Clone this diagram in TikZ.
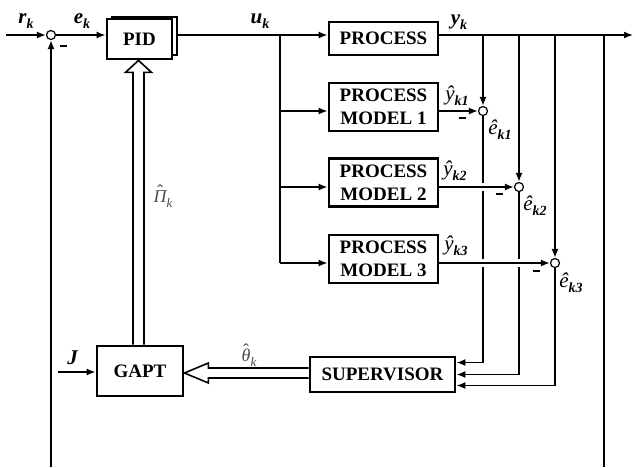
\documentclass[tikz,border=0pt]{standalone}
\usepackage{amsmath}
\usepackage{fontspec}
\setmainfont{Liberation Serif}
\usepackage{tikz}
\usetikzlibrary{arrows.meta,calc}

\newcommand{\sig}[2]{{\bfseries\itshape #1}\raisebox{-0.55ex}{\fontsize{14}{14}\selectfont\bfseries\itshape #2}}
\newcommand{\est}[2]{{\itshape\^{#1}}\raisebox{-0.55ex}{\fontsize{14}{14}\selectfont\bfseries\itshape #2}}
\newcommand{\ghat}[2]{\setbox0\hbox{\itshape #1}\makebox[\wd0][c]{\raisebox{0.3em}{ˆ}}\kern-\wd0\box0\raisebox{-0.55ex}{\fontsize{13}{13}\selectfont\itshape #2}}

\begin{document}
\begin{tikzpicture}[x=1pt,y=-1pt,
  block/.style={draw, line width=2.8pt, fill=white, inner sep=0pt, align=center,
    font=\fontsize{19}{23}\selectfont\bfseries},
  sumnode/.style={draw, circle, line width=1.2pt, minimum size=9pt, inner sep=0pt},
  lbl/.style={inner sep=0pt, font=\fontsize{21}{21}\selectfont},
  arr/.style={line width=1.6pt, -{Latex[length=9pt,width=7pt]}},
  wire/.style={line width=1.6pt},
  gapline/.style={draw=white, line width=8pt},
  fat/.style={line width=1.6pt, line join=miter, fill=white},
  minus/.style={inner sep=0pt}]
  \useasboundingbox (0,0) rectangle (635,467);

  % blocks
  \node[sumnode] (s0) at (51,35) {};
  \node[block, minimum width=65pt, minimum height=38pt] (pidback) at (144.5,36) {};
  \node[block, minimum width=65pt, minimum height=40pt] (pid) at (139.5,39) {PID};
  \node[block, minimum width=109pt, minimum height=33pt] (proc) at (383.5,38.5) {PROCESS};
  \node[block, minimum width=109pt, minimum height=48pt] (m1) at (383.5,107) {PROCESS\\MODEL 1};
  \node[block, minimum width=109pt, minimum height=48pt] (m2) at (383.5,182.5) {PROCESS\\MODEL 2};
  \node[block, minimum width=109pt, minimum height=48pt] (m3) at (383.5,259) {PROCESS\\MODEL 3};
  \node[block, minimum width=86pt, minimum height=50pt] (gapt) at (140,371) {GAPT};
  \node[block, minimum width=145pt, minimum height=35pt] (sup) at (382.5,374.5) {SUPERVISOR};
  \node[sumnode] (s1) at (483,111) {};
  \node[sumnode] (s2) at (519,187) {};
  \node[sumnode] (s3) at (555,263) {};

  \coordinate (rin) at (6,35);
  \coordinate (uj) at (280,35);
  \coordinate (yout) at (633,35);
  \coordinate (ytap) at (604,35);
  \coordinate (fbl) at (51,467);
  \coordinate (fbr) at (604,467);
  \coordinate (jin) at (58,372);

  % main loop
  \draw[arr] (rin) -- (s0);
  \draw[arr] (s0) -- (pid.west |- s0);
  \draw[wire] (pidback.east |- s0) -- (uj);
  \draw[arr] (uj) -- (proc.west |- uj);
  \draw[arr] (proc.east |- uj) -- (yout);
  \draw[arr] (fbl) -- (s0);
  \draw[wire] (ytap) -- (fbr);

  % models
  \draw[wire] (uj) -- (uj |- s3);
  \draw[arr] (uj |- s1) -- (m1.west |- s1);
  \draw[arr] (uj |- s2) -- (m2.west |- s2);
  \draw[arr] (uj |- s3) -- (m3.west |- s3);
  \draw[arr] (s1 |- yout) -- (s1);
  \draw[arr] (s2 |- yout) -- (s2);
  \draw[arr] (s3 |- yout) -- (s3);
  \draw[arr] (s1) |- ($(sup.east)+(0,-12)$);
  \draw[arr] (s2) |- (sup.east);
  \draw[arr] (s3) |- ($(sup.east)+(0,11)$);
  \draw[arr] (m1.east |- s1) -- (s1);
  \draw[gapline] ($(m2.east |- s2)+(6,0)$) -- ($(s2.west)+(-12,0)$);
  \draw[arr] (m2.east |- s2) -- (s2);
  \draw[gapline] ($(m3.east |- s3)+(6,0)$) -- ($(s3.west)+(-12,0)$);
  \draw[arr] (m3.east |- s3) -- (s3);

  % GAPT
  \draw[arr] (jin) -- (gapt.west |- jin);
  \draw[fat] ($(sup.west)+(0,-6.5)$) -- ($(gapt.east)+(24,-3)$) -- ($(gapt.east)+(24,-8)$)
    -- ($(gapt.east)+(0,2)$) -- ($(gapt.east)+(24,12)$) -- ($(gapt.east)+(24,7)$)
    -- ($(sup.west)+(0,3.5)$);
  \draw[fat] ($(gapt.north)+(-7,0)$) -- ($(pid.south)+(-6.5,12)$) -- ($(pid.south)+(-14,12)$)
    -- ($(pid.south)+(-1,0)$) -- ($(pid.south)+(12,12)$) -- ($(pid.south)+(4.5,12)$)
    -- ($(gapt.north)+(4,0)$);

  % labels
  \node[lbl] (rk) at (26,21) {\sig{r}{k}};
  \node[lbl] (ek) at (82,21) {\sig{e}{k}};
  \node[lbl] (uk) at (260,21) {\sig{u}{k}};
  \node[lbl] (yk) at (459,22) {\sig{y}{k}};
  \node[lbl] (yk1) at (457,96) {\est{y}{k1}};
  \node[lbl] (yk2) at (455,171) {\est{y}{k2}};
  \node[lbl] (yk3) at (456,246) {\est{y}{k3}};
  \node[lbl] (ek1) at (500,130) {\est{e}{k1}};
  \node[lbl] (ek2) at (535,206) {\est{e}{k2}};
  \node[lbl] (ek3) at (571,283) {\est{e}{k3}};
  \node[lbl, text=black!70, font=\fontsize{18}{18}\selectfont] (pik) at (163,196) {\ghat{Π}{k}};
  \node[lbl, text=black!70, font=\fontsize{18}{18}\selectfont] (thk) at (249,355) {\ghat{θ}{k}};
  \node[lbl] (jl) at (73,358) {\textbf{\textit{J}}};
  \node[minus] (n0) at (63,46) {\rule{7pt}{2.5pt}};
  \node[minus] (n1) at (462,118) {\rule{7pt}{2.5pt}};
  \node[minus] (n2) at (499,194) {\rule{7pt}{2.5pt}};
  \node[minus] (n3) at (536,271) {\rule{7pt}{2.5pt}};
\end{tikzpicture}
\end{document}
